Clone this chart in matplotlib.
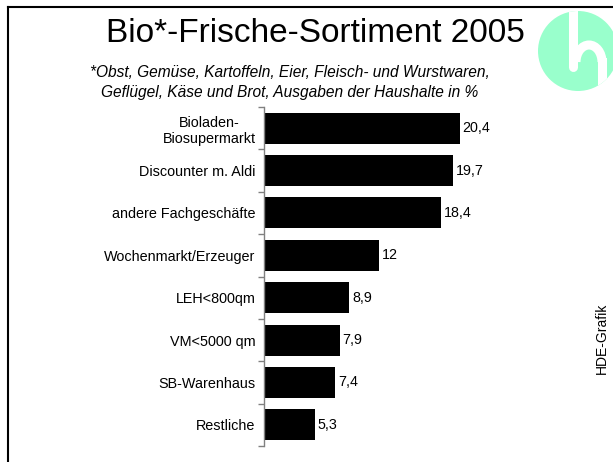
import matplotlib
matplotlib.use("Agg")
import matplotlib.pyplot as plt
from matplotlib.patches import Circle, Arc
from matplotlib.lines import Line2D
import numpy as np

categories = ["Bioladen-\nBiosupermarkt", "Discounter m. Aldi", "andere Fachgeschäfte",
              "Wochenmarkt/Erzeuger", "LEH<800qm", "VM<5000 qm", "SB-Warenhaus", "Restliche"]
values = [20.4, 19.7, 18.4, 12, 8.9, 7.9, 7.4, 5.3]
value_labels = ["20,4", "19,7", "18,4", "12", "8,9", "7,9", "7,4", "5,3"]
title = "Bio*-Frische-Sortiment 2005"
subtitle = "*Obst, Gemüse, Kartoffeln, Eier, Fleisch- und Wurstwaren,\nGeflügel, Käse und Brot, Ausgaben der Haushalte in %"
credit = "HDE-Grafik"

plt.rcParams['font.family'] = ['Liberation Sans', 'DejaVu Sans']

W, H = 613, 462
fig = plt.figure(figsize=(W / 100, H / 100), dpi=100)

# overlay in pixel coordinates for frame/logo
ov = fig.add_axes([0, 0, 1, 1])
ov.set_xlim(0, W)
ov.set_ylim(H, 0)
ov.axis('off')
ov.add_line(Line2D([8, 8], [7, H + 5], color='black', lw=1.5))
ov.add_line(Line2D([8, W + 5], [7, 7], color='black', lw=1.5))

# logo
circ = Circle((578, 51), 40, facecolor='#99FFCC', edgecolor='none')
ov.add_patch(circ)
stem = Line2D([573, 573], [0, 67], color='white', lw=6.5, solid_capstyle='round')
ov.add_line(stem)
stem.set_clip_path(circ)
arc = Arc((589, 62), 26, 34, theta1=180, theta2=360, color='white', lw=6.5)
ov.add_patch(arc)
leg = Line2D([602, 602], [62, 100], color='white', lw=6.5)
ov.add_line(leg)
leg.set_clip_path(circ)

fig.text(315 / W, 1 - 33 / H, title, ha='center', va='center', fontsize=24)
fig.text(290 / W, 1 - 82.5 / H, subtitle, ha='center', va='center', fontsize=11.2,
         style='italic', linespacing=1.45)
fig.text(602 / W, 1 - 338 / H, credit, rotation=90, ha='center', va='center', fontsize=10)

# main chart
left = 264 / W
top = 107 / H
bottom = 446 / H
xmax = 30
ax = fig.add_axes([left, 1 - bottom, 288 / W, (bottom - top)])
ax.set_facecolor('none')
n = len(categories)
pos = np.arange(n)
ax.barh(pos, values, height=0.73, color='black')
ax.set_ylim(n - 0.5, -0.5)
ax.set_xlim(0, xmax)
for p, v, lab in zip(pos, values, value_labels):
    ax.text(v + 0.3, p, lab, va='center', ha='left', fontsize=10.3)
for s in ['top', 'right', 'bottom']:
    ax.spines[s].set_visible(False)
ax.spines['left'].set_color('#808080')
ax.spines['left'].set_linewidth(1.0)
ax.set_xticks([])
ax.set_yticks(pos)
ax.set_yticklabels(categories, fontsize=10.4, multialignment='center')
ax.set_yticks(np.arange(n + 1) - 0.5, minor=True)
ax.tick_params(axis='y', which='major', length=0, pad=6)
ax.tick_params(axis='y', which='minor', length=4, color='#808080', width=1.0, direction='out')

fig.savefig("out.png", dpi=100)
